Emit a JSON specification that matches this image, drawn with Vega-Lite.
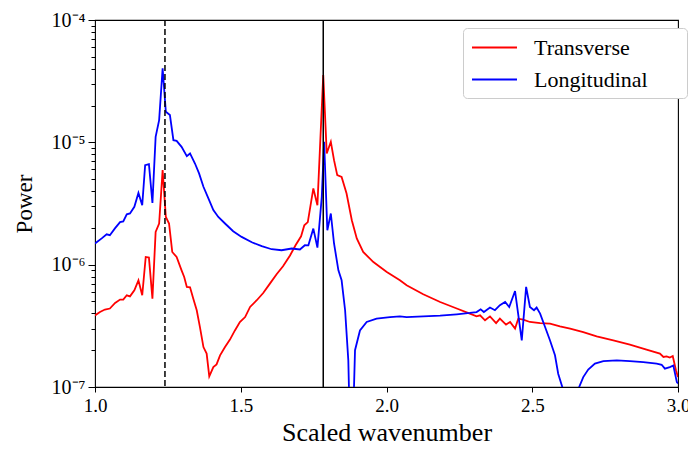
{
  "$schema": "https://vega.github.io/schema/vega-lite/v6.json",
  "autosize": "none",
  "padding": {"left": 95, "top": 20, "right": 10, "bottom": 63},
  "width": 583,
  "height": 367,
  "background": "white",
  "config": {
    "view": {"stroke": "black", "strokeWidth": 1.1},
    "font": "Liberation Serif",
    "axis": {"domain": false, "grid": false, "tickColor": "black", "labelColor": "black", "titleColor": "black", "labelFont": "Liberation Serif", "titleFont": "Liberation Serif", "titleFontWeight": "normal", "tickWidth": 1}
  },
  "datasets": {
    "spec": [
      {"series": "Transverse", "k": 1.000, "power": 3.85e-7},
      {"series": "Transverse", "k": 1.017, "power": 4.10e-7},
      {"series": "Transverse", "k": 1.034, "power": 4.30e-7},
      {"series": "Transverse", "k": 1.051, "power": 4.38e-7},
      {"series": "Transverse", "k": 1.069, "power": 4.86e-7},
      {"series": "Transverse", "k": 1.086, "power": 5.18e-7},
      {"series": "Transverse", "k": 1.097, "power": 5.18e-7},
      {"series": "Transverse", "k": 1.109, "power": 5.62e-7},
      {"series": "Transverse", "k": 1.120, "power": 5.51e-7},
      {"series": "Transverse", "k": 1.135, "power": 6.18e-7},
      {"series": "Transverse", "k": 1.149, "power": 7.45e-7},
      {"series": "Transverse", "k": 1.162, "power": 5.62e-7},
      {"series": "Transverse", "k": 1.174, "power": 1.156e-6},
      {"series": "Transverse", "k": 1.185, "power": 1.143e-6},
      {"series": "Transverse", "k": 1.197, "power": 5.28e-7},
      {"series": "Transverse", "k": 1.208, "power": 1.853e-6},
      {"series": "Transverse", "k": 1.220, "power": 2.17e-6},
      {"series": "Transverse", "k": 1.232, "power": 5.93e-6},
      {"series": "Transverse", "k": 1.243, "power": 2.455e-6},
      {"series": "Transverse", "k": 1.254, "power": 2.17e-6},
      {"series": "Transverse", "k": 1.265, "power": 1.27e-6},
      {"series": "Transverse", "k": 1.280, "power": 1.156e-6},
      {"series": "Transverse", "k": 1.297, "power": 8.99e-7},
      {"series": "Transverse", "k": 1.306, "power": 7.93e-7},
      {"series": "Transverse", "k": 1.315, "power": 6.58e-7},
      {"series": "Transverse", "k": 1.326, "power": 6.53e-7},
      {"series": "Transverse", "k": 1.337, "power": 5.28e-7},
      {"series": "Transverse", "k": 1.349, "power": 4.24e-7},
      {"series": "Transverse", "k": 1.360, "power": 3.09e-7},
      {"series": "Transverse", "k": 1.372, "power": 2.12e-7},
      {"series": "Transverse", "k": 1.383, "power": 1.875e-7},
      {"series": "Transverse", "k": 1.392, "power": 1.22e-7},
      {"series": "Transverse", "k": 1.406, "power": 1.455e-7},
      {"series": "Transverse", "k": 1.417, "power": 1.53e-7},
      {"series": "Transverse", "k": 1.429, "power": 1.815e-7},
      {"series": "Transverse", "k": 1.446, "power": 2.12e-7},
      {"series": "Transverse", "k": 1.463, "power": 2.44e-7},
      {"series": "Transverse", "k": 1.480, "power": 2.90e-7},
      {"series": "Transverse", "k": 1.497, "power": 3.40e-7},
      {"series": "Transverse", "k": 1.515, "power": 3.73e-7},
      {"series": "Transverse", "k": 1.532, "power": 4.51e-7},
      {"series": "Transverse", "k": 1.555, "power": 5.12e-7},
      {"series": "Transverse", "k": 1.577, "power": 5.86e-7},
      {"series": "Transverse", "k": 1.600, "power": 7.0e-7},
      {"series": "Transverse", "k": 1.623, "power": 8.34e-7},
      {"series": "Transverse", "k": 1.645, "power": 9.70e-7},
      {"series": "Transverse", "k": 1.669, "power": 1.19e-6},
      {"series": "Transverse", "k": 1.688, "power": 1.44e-6},
      {"series": "Transverse", "k": 1.707, "power": 1.706e-6},
      {"series": "Transverse", "k": 1.718, "power": 2.10e-6},
      {"series": "Transverse", "k": 1.730, "power": 2.23e-6},
      {"series": "Transverse", "k": 1.749, "power": 4.20e-6},
      {"series": "Transverse", "k": 1.763, "power": 3.06e-6},
      {"series": "Transverse", "k": 1.783, "power": 3.55e-5},
      {"series": "Transverse", "k": 1.795, "power": 8.11e-6},
      {"series": "Transverse", "k": 1.809, "power": 1.01e-5},
      {"series": "Transverse", "k": 1.820, "power": 7.15e-6},
      {"series": "Transverse", "k": 1.831, "power": 5.39e-6},
      {"series": "Transverse", "k": 1.846, "power": 5.22e-6},
      {"series": "Transverse", "k": 1.863, "power": 3.82e-6},
      {"series": "Transverse", "k": 1.881, "power": 2.31e-6},
      {"series": "Transverse", "k": 1.898, "power": 1.64e-6},
      {"series": "Transverse", "k": 1.920, "power": 1.27e-6},
      {"series": "Transverse", "k": 1.955, "power": 1.05e-6},
      {"series": "Transverse", "k": 2.001, "power": 8.71e-7},
      {"series": "Transverse", "k": 2.046, "power": 7.45e-7},
      {"series": "Transverse", "k": 2.069, "power": 6.78e-7},
      {"series": "Transverse", "k": 2.126, "power": 5.73e-7},
      {"series": "Transverse", "k": 2.184, "power": 4.95e-7},
      {"series": "Transverse", "k": 2.241, "power": 4.38e-7},
      {"series": "Transverse", "k": 2.286, "power": 3.98e-7},
      {"series": "Transverse", "k": 2.309, "power": 3.78e-7},
      {"series": "Transverse", "k": 2.321, "power": 3.85e-7},
      {"series": "Transverse", "k": 2.338, "power": 3.51e-7},
      {"series": "Transverse", "k": 2.355, "power": 3.78e-7},
      {"series": "Transverse", "k": 2.376, "power": 3.33e-7},
      {"series": "Transverse", "k": 2.389, "power": 3.62e-7},
      {"series": "Transverse", "k": 2.410, "power": 3.24e-7},
      {"series": "Transverse", "k": 2.424, "power": 3.40e-7},
      {"series": "Transverse", "k": 2.441, "power": 3.0e-7},
      {"series": "Transverse", "k": 2.452, "power": 3.62e-7},
      {"series": "Transverse", "k": 2.469, "power": 3.56e-7},
      {"series": "Transverse", "k": 2.492, "power": 3.40e-7},
      {"series": "Transverse", "k": 2.527, "power": 3.33e-7},
      {"series": "Transverse", "k": 2.561, "power": 3.30e-7},
      {"series": "Transverse", "k": 2.595, "power": 3.13e-7},
      {"series": "Transverse", "k": 2.630, "power": 3.0e-7},
      {"series": "Transverse", "k": 2.675, "power": 2.81e-7},
      {"series": "Transverse", "k": 2.721, "power": 2.59e-7},
      {"series": "Transverse", "k": 2.778, "power": 2.40e-7},
      {"series": "Transverse", "k": 2.835, "power": 2.22e-7},
      {"series": "Transverse", "k": 2.892, "power": 2.02e-7},
      {"series": "Transverse", "k": 2.938, "power": 1.875e-7},
      {"series": "Transverse", "k": 2.950, "power": 1.76e-7},
      {"series": "Transverse", "k": 2.961, "power": 1.78e-7},
      {"series": "Transverse", "k": 2.972, "power": 1.74e-7},
      {"series": "Transverse", "k": 2.982, "power": 1.79e-7},
      {"series": "Transverse", "k": 2.993, "power": 1.37e-7},
      {"series": "Transverse", "k": 3.000, "power": 1.205e-7},
      {"series": "Longitudinal", "k": 1.000, "power": 1.49e-6},
      {"series": "Longitudinal", "k": 1.023, "power": 1.64e-6},
      {"series": "Longitudinal", "k": 1.040, "power": 1.77e-6},
      {"series": "Longitudinal", "k": 1.051, "power": 1.74e-6},
      {"series": "Longitudinal", "k": 1.069, "power": 1.99e-6},
      {"series": "Longitudinal", "k": 1.086, "power": 2.23e-6},
      {"series": "Longitudinal", "k": 1.097, "power": 2.26e-6},
      {"series": "Longitudinal", "k": 1.109, "power": 2.58e-6},
      {"series": "Longitudinal", "k": 1.120, "power": 2.62e-6},
      {"series": "Longitudinal", "k": 1.135, "power": 2.97e-6},
      {"series": "Longitudinal", "k": 1.149, "power": 3.86e-6},
      {"series": "Longitudinal", "k": 1.162, "power": 3.06e-6},
      {"series": "Longitudinal", "k": 1.172, "power": 6.50e-6},
      {"series": "Longitudinal", "k": 1.185, "power": 6.64e-6},
      {"series": "Longitudinal", "k": 1.197, "power": 3.20e-6},
      {"series": "Longitudinal", "k": 1.208, "power": 1.109e-5},
      {"series": "Longitudinal", "k": 1.220, "power": 1.52e-5},
      {"series": "Longitudinal", "k": 1.232, "power": 4.03e-5},
      {"series": "Longitudinal", "k": 1.243, "power": 1.778e-5},
      {"series": "Longitudinal", "k": 1.257, "power": 1.67e-5},
      {"series": "Longitudinal", "k": 1.269, "power": 1.042e-5},
      {"series": "Longitudinal", "k": 1.280, "power": 1.028e-5},
      {"series": "Longitudinal", "k": 1.297, "power": 9.18e-6},
      {"series": "Longitudinal", "k": 1.315, "power": 7.71e-6},
      {"series": "Longitudinal", "k": 1.326, "power": 8.11e-6},
      {"series": "Longitudinal", "k": 1.343, "power": 6.71e-6},
      {"series": "Longitudinal", "k": 1.357, "power": 5.57e-6},
      {"series": "Longitudinal", "k": 1.372, "power": 4.33e-6},
      {"series": "Longitudinal", "k": 1.389, "power": 3.48e-6},
      {"series": "Longitudinal", "k": 1.406, "power": 2.79e-6},
      {"series": "Longitudinal", "k": 1.423, "power": 2.455e-6},
      {"series": "Longitudinal", "k": 1.446, "power": 2.17e-6},
      {"series": "Longitudinal", "k": 1.474, "power": 1.875e-6},
      {"series": "Longitudinal", "k": 1.503, "power": 1.687e-6},
      {"series": "Longitudinal", "k": 1.538, "power": 1.524e-6},
      {"series": "Longitudinal", "k": 1.572, "power": 1.416e-6},
      {"series": "Longitudinal", "k": 1.606, "power": 1.337e-6},
      {"series": "Longitudinal", "k": 1.640, "power": 1.312e-6},
      {"series": "Longitudinal", "k": 1.675, "power": 1.355e-6},
      {"series": "Longitudinal", "k": 1.703, "power": 1.33e-6},
      {"series": "Longitudinal", "k": 1.720, "power": 1.442e-6},
      {"series": "Longitudinal", "k": 1.732, "power": 1.44e-6},
      {"series": "Longitudinal", "k": 1.749, "power": 1.972e-6},
      {"series": "Longitudinal", "k": 1.763, "power": 1.38e-6},
      {"series": "Longitudinal", "k": 1.778, "power": 3.58e-6},
      {"series": "Longitudinal", "k": 1.786, "power": 1.01e-5},
      {"series": "Longitudinal", "k": 1.797, "power": 1.91e-6},
      {"series": "Longitudinal", "k": 1.809, "power": 2.62e-6},
      {"series": "Longitudinal", "k": 1.820, "power": 1.49e-6},
      {"series": "Longitudinal", "k": 1.835, "power": 8.99e-7},
      {"series": "Longitudinal", "k": 1.846, "power": 7.45e-7},
      {"series": "Longitudinal", "k": 1.858, "power": 4.24e-7},
      {"series": "Longitudinal", "k": 1.869, "power": 1.65e-7},
      {"series": "Longitudinal", "k": 1.875, "power": 4e-8},
      {"series": "Longitudinal", "k": 1.884, "power": 4e-8},
      {"series": "Longitudinal", "k": 1.892, "power": 2.0e-7},
      {"series": "Longitudinal", "k": 1.909, "power": 2.90e-7},
      {"series": "Longitudinal", "k": 1.932, "power": 3.40e-7},
      {"series": "Longitudinal", "k": 1.966, "power": 3.62e-7},
      {"series": "Longitudinal", "k": 2.012, "power": 3.73e-7},
      {"series": "Longitudinal", "k": 2.046, "power": 3.78e-7},
      {"series": "Longitudinal", "k": 2.069, "power": 3.73e-7},
      {"series": "Longitudinal", "k": 2.126, "power": 3.78e-7},
      {"series": "Longitudinal", "k": 2.184, "power": 3.83e-7},
      {"series": "Longitudinal", "k": 2.241, "power": 3.93e-7},
      {"series": "Longitudinal", "k": 2.286, "power": 4.03e-7},
      {"series": "Longitudinal", "k": 2.309, "power": 4.10e-7},
      {"series": "Longitudinal", "k": 2.323, "power": 4.32e-7},
      {"series": "Longitudinal", "k": 2.334, "power": 4.10e-7},
      {"series": "Longitudinal", "k": 2.355, "power": 4.46e-7},
      {"series": "Longitudinal", "k": 2.372, "power": 4.24e-7},
      {"series": "Longitudinal", "k": 2.389, "power": 4.66e-7},
      {"series": "Longitudinal", "k": 2.407, "power": 4.95e-7},
      {"series": "Longitudinal", "k": 2.421, "power": 4.51e-7},
      {"series": "Longitudinal", "k": 2.441, "power": 6.09e-7},
      {"series": "Longitudinal", "k": 2.464, "power": 2.40e-7},
      {"series": "Longitudinal", "k": 2.479, "power": 6.58e-7},
      {"series": "Longitudinal", "k": 2.492, "power": 4.51e-7},
      {"series": "Longitudinal", "k": 2.506, "power": 4.24e-7},
      {"series": "Longitudinal", "k": 2.515, "power": 4.46e-7},
      {"series": "Longitudinal", "k": 2.527, "power": 3.98e-7},
      {"series": "Longitudinal", "k": 2.544, "power": 3.09e-7},
      {"series": "Longitudinal", "k": 2.561, "power": 2.40e-7},
      {"series": "Longitudinal", "k": 2.578, "power": 1.815e-7},
      {"series": "Longitudinal", "k": 2.589, "power": 1.285e-7},
      {"series": "Longitudinal", "k": 2.603, "power": 1.0e-7},
      {"series": "Longitudinal", "k": 2.612, "power": 4e-8},
      {"series": "Longitudinal", "k": 2.652, "power": 4e-8},
      {"series": "Longitudinal", "k": 2.661, "power": 1.0e-7},
      {"series": "Longitudinal", "k": 2.675, "power": 1.205e-7},
      {"series": "Longitudinal", "k": 2.692, "power": 1.387e-7},
      {"series": "Longitudinal", "k": 2.715, "power": 1.552e-7},
      {"series": "Longitudinal", "k": 2.744, "power": 1.63e-7},
      {"series": "Longitudinal", "k": 2.790, "power": 1.65e-7},
      {"series": "Longitudinal", "k": 2.835, "power": 1.63e-7},
      {"series": "Longitudinal", "k": 2.881, "power": 1.60e-7},
      {"series": "Longitudinal", "k": 2.927, "power": 1.552e-7},
      {"series": "Longitudinal", "k": 2.944, "power": 1.52e-7},
      {"series": "Longitudinal", "k": 2.955, "power": 1.413e-7},
      {"series": "Longitudinal", "k": 2.972, "power": 1.455e-7},
      {"series": "Longitudinal", "k": 2.984, "power": 1.50e-7},
      {"series": "Longitudinal", "k": 2.996, "power": 1.097e-7},
      {"series": "Longitudinal", "k": 3.000, "power": 1.07e-7}
    ],
    "marks": [
      {"k": 1.240, "style": "dashed"},
      {"k": 1.783, "style": "solid"}
    ]
  },
  "layer": [
    {
      "data": {"name": "spec"},
      "mark": {"type": "line", "strokeWidth": 1.8, "clip": true, "interpolate": "linear"},
      "encoding": {
        "x": {
          "field": "k", "type": "quantitative",
          "scale": {"domain": [1, 3], "nice": false, "zero": false},
          "axis": {"values": [1, 1.5, 2, 2.5, 3], "format": ".1f", "title": "Scaled wavenumber", "titleFontSize": 26, "labelFontSize": 19, "tickSize": 5, "labelPadding": 4, "titlePadding": 4, "labelFlush": false}
        },
        "y": {
          "field": "power", "type": "quantitative",
          "scale": {"type": "log", "domain": [1e-7, 1e-4], "nice": false},
          "axis": {
            "values": [1e-7, 2e-7, 3e-7, 4e-7, 5e-7, 6e-7, 7e-7, 8e-7, 9e-7, 1e-6, 2e-6, 3e-6, 4e-6, 5e-6, 6e-6, 7e-6, 8e-6, 9e-6, 1e-5, 2e-5, 3e-5, 4e-5, 5e-5, 6e-5, 7e-5, 8e-5, 9e-5, 1e-4],
            "labelExpr": "datum.value == 1e-4 ? '10⁻⁴' : datum.value == 1e-5 ? '10⁻⁵' : datum.value == 1e-6 ? '10⁻⁶' : datum.value == 1e-7 ? '10⁻⁷' : ''",
            "tickSize": {"condition": {"test": "datum.value == 1e-4 || datum.value == 1e-5 || datum.value == 1e-6 || datum.value == 1e-7", "value": 7}, "value": 4},
            "labelOverlap": false, "labelFlush": false,
            "title": "Power", "titleFontSize": 23, "labelFontSize": 20, "labelPadding": 3, "titlePadding": 15
          }
        },
        "color": {
          "field": "series", "type": "nominal",
          "scale": {"domain": ["Transverse", "Longitudinal"], "range": ["#ff0000", "#0000ff"]},
          "legend": {
            "orient": "none", "legendX": 368, "legendY": 8, "title": null,
            "symbolType": "M-2,0H2", "symbolSize": 506, "symbolStrokeWidth": 2, "symbolOffset": 12,
            "labelFont": "Liberation Serif", "labelFontSize": 22, "labelColor": "black", "labelOffset": 27,
            "labelExpr": "datum.label + '\u2800\u2800'",
            "fillColor": "white", "strokeColor": "#cccccc", "cornerRadius": 4, "padding": 7, "rowPadding": 8
          }
        },
        "order": {"field": "k", "type": "quantitative"}
      }
    },
    {
      "data": {"name": "marks"},
      "mark": {"type": "rule", "color": "black", "strokeWidth": 1.5},
      "encoding": {
        "x": {"field": "k", "type": "quantitative"},
        "strokeDash": {
          "field": "style", "type": "nominal",
          "scale": {"domain": ["dashed", "solid"], "range": [[6, 3], [1, 0]]},
          "legend": null
        }
      }
    }
  ]
}
